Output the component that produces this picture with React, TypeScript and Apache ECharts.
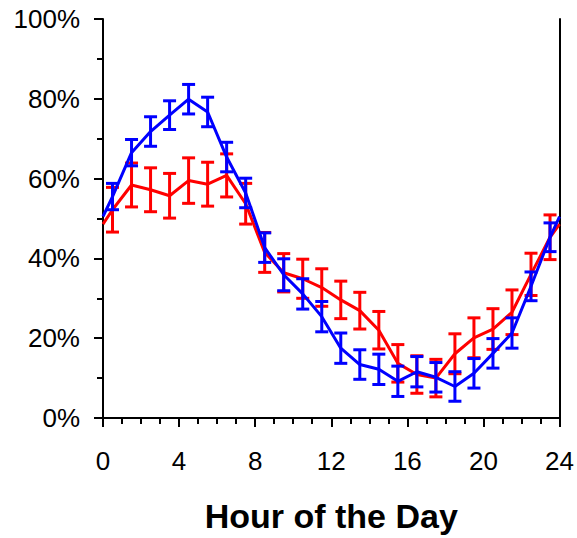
import React, { useEffect, useRef } from "react";
import * as echarts from "echarts";

// Hours at which the mean values are plotted (0 and 24 are the wrap-around ends)
const hours = [0, 0.5, 1.5, 2.5, 3.5, 4.5, 5.5, 6.5, 7.5, 8.5, 9.5, 10.5, 11.5, 12.5, 13.5, 14.5, 15.5, 16.5, 17.5, 18.5, 19.5, 20.5, 21.5, 22.5, 23.5, 24];

const redMean = [48.6, 52.2, 58.4, 57.2, 55.7, 59.5, 58.6, 60.8, 53.7, 41.5, 36.4, 34.9, 32.7, 29.6, 26.9, 22.0, 13.7, 10.9, 10.0, 16.1, 20.1, 22.3, 26.5, 36.0, 45.3, 48.6];
// error half-widths (null = no error bar at the wrap-around ends)
const redErr = [null, 5.6, 5.5, 5.5, 5.6, 5.7, 5.5, 5.4, 5.1, 5.0, 4.8, 4.9, 4.7, 4.7, 4.6, 4.7, 4.7, 4.7, 4.7, 5.0, 5.0, 5.1, 5.6, 5.3, 5.6, null];

const blueMean = [50.5, 55.5, 66.5, 71.8, 75.9, 79.9, 76.7, 65.4, 56.4, 42.7, 35.9, 31.1, 25.4, 17.5, 13.4, 12.2, 9.2, 11.6, 10.2, 7.9, 11.2, 16.2, 21.3, 33.0, 45.3, 50.5];
const blueErr = [null, 3.3, 3.3, 3.7, 3.6, 3.7, 3.7, 3.7, 3.7, 3.7, 4.0, 3.8, 3.8, 3.8, 3.7, 3.8, 3.8, 3.8, 3.7, 3.7, 3.7, 3.7, 3.8, 3.6, 3.6, null];

const xTicks = [0, 4, 8, 12, 16, 20, 24];
const yTicks = [0, 20, 40, 60, 80, 100];

const FONT = "'Liberation Sans', Arial, Helvetica, sans-serif";

function errData(mean: number[], err: (number | null)[]) {
  const out: number[][] = [];
  hours.forEach((h, i) => {
    const e = err[i];
    if (e != null) out.push([h, mean[i] - e, mean[i] + e]);
  });
  return out;
}

function errSeries(name: string, color: string, data: number[][], z: number) {
  return {
    type: "custom",
    name,
    z,
    data,
    encode: { x: 0, y: [1, 2] },
    renderItem: (params: any, api: any) => {
      const x = api.value(0);
      const lo = api.coord([x, api.value(1)]);
      const hi = api.coord([x, api.value(2)]);
      const half = 6.5;
      const style = { stroke: color, lineWidth: 3 };
      return {
        type: "group",
        children: [
          { type: "line", shape: { x1: lo[0], y1: lo[1], x2: hi[0], y2: hi[1] }, style },
          { type: "line", shape: { x1: lo[0] - half, y1: lo[1], x2: lo[0] + half, y2: lo[1] }, style },
          { type: "line", shape: { x1: hi[0] - half, y1: hi[1], x2: hi[0] + half, y2: hi[1] }, style },
        ],
      };
    },
  };
}

export default function App() {
  const ref = useRef<HTMLDivElement>(null);
  useEffect(() => {
    if (!ref.current) return;
    const chart = echarts.init(ref.current, null, { renderer: "svg" });
    const redLine = hours.map((h, i) => [h, redMean[i]]);
    const blueLine = hours.map((h, i) => [h, blueMean[i]]);
    chart.setOption({
      animation: false,
      backgroundColor: "#ffffff",
      grid: { left: 103, right: 11.5, top: 19, bottom: 111.5, containLabel: false },
      xAxis: {
        type: "value",
        min: xTicks[0],
        max: xTicks[xTicks.length - 1],
        interval: 4,
        name: "Hour of the Day",
        nameLocation: "middle",
        nameGap: 81,
        nameTextStyle: { fontFamily: FONT, fontSize: 34, fontWeight: "bold", color: "#000" },
        axisLine: { show: true, lineStyle: { color: "#000", width: 2 } },
        axisTick: { show: true, inside: false, length: 9, lineStyle: { color: "#000", width: 2 } },
        minorTick: { show: true, splitNumber: 4, length: 6, lineStyle: { color: "#000", width: 2 } },
        axisLabel: { fontFamily: FONT, fontSize: 26, color: "#000", margin: 30, showMaxLabel: true, showMinLabel: true },
        splitLine: { show: false },
        minorSplitLine: { show: false },
      },
      yAxis: [
        {
          type: "value",
          min: yTicks[0],
          max: yTicks[yTicks.length - 1],
          interval: 20,
          axisLine: { show: true, lineStyle: { color: "#000", width: 2 } },
          axisTick: { show: true, inside: false, length: 9, lineStyle: { color: "#000", width: 2 } },
          minorTick: { show: true, splitNumber: 2, length: 6, lineStyle: { color: "#000", width: 2 } },
          axisLabel: { fontFamily: FONT, fontSize: 26, color: "#000", margin: 23, formatter: "{value}%" },
          splitLine: { show: false },
        },
        {
          type: "value",
          position: "right",
          min: 0,
          max: 100,
          interval: 20,
          axisLine: { show: true, lineStyle: { color: "#000", width: 2 } },
          axisTick: { show: false },
          axisLabel: { show: false },
          splitLine: { show: false },
        },
      ],
      series: [
        errSeries("redErr", "#ff0000", errData(redMean, redErr), 2),
        {
          type: "line",
          name: "red",
          data: redLine,
          showSymbol: false,
          symbol: "none",
          lineStyle: { color: "#ff0000", width: 3 },
          z: 3,
        },
        errSeries("blueErr", "#0000ff", errData(blueMean, blueErr), 4),
        {
          type: "line",
          name: "blue",
          data: blueLine,
          showSymbol: false,
          symbol: "none",
          lineStyle: { color: "#0000ff", width: 3 },
          z: 5,
        },
      ],
    });
    return () => chart.dispose();
  }, []);
  return (
    <div
      ref={ref}
      style={{ position: "absolute", left: 0, top: 0, width: 577, height: 538 }}
    />
  );
}
